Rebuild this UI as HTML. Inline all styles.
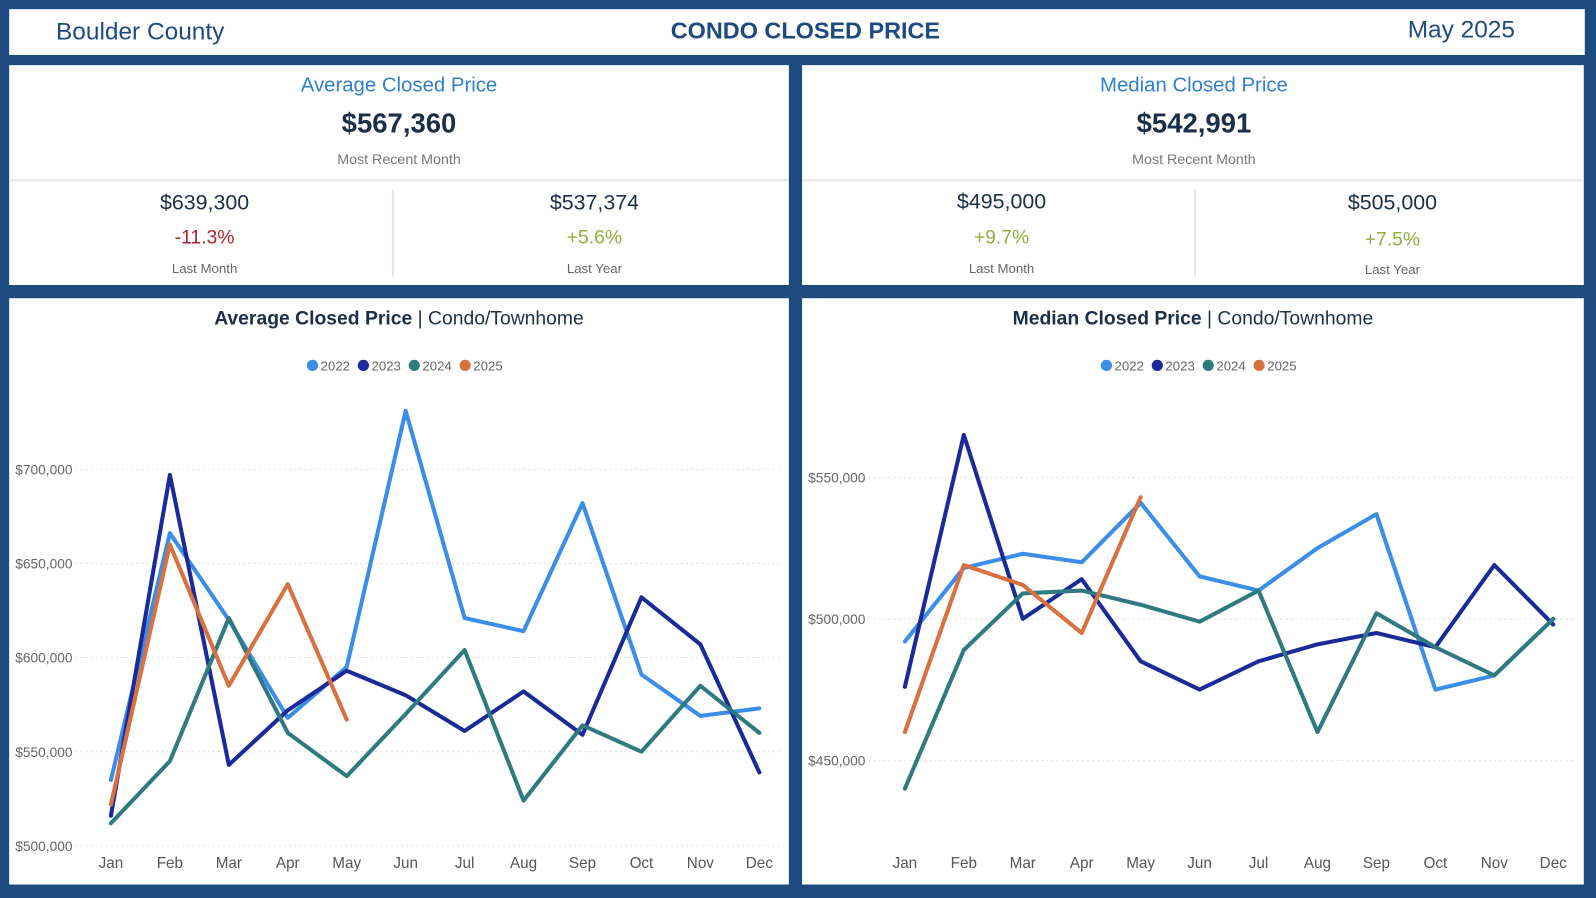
<!DOCTYPE html>
<html><head><meta charset="utf-8">
<style>
*{margin:0;padding:0;box-sizing:border-box}
html,body{width:1596px;height:898px;background:#1d4b80;overflow:hidden}
#root{position:absolute;left:0;top:0;width:1568px;height:882px;transform:scale(1.017857);transform-origin:0 0;font-family:"Liberation Sans",sans-serif}
.box{position:absolute;background:#fff}
.t{position:absolute;white-space:nowrap;text-align:center}
</style></head><body>
<div id="root">
<div class="box" style="left:9px;top:9px;width:1548px;height:45px">
 <div class="t" style="left:46px;top:9px;font-size:24px;color:#1d4b80">Boulder County</div>
 <div class="t" style="left:650px;top:8px;font-size:23px;font-weight:bold;color:#1d4b80">CONDO CLOSED PRICE</div>
 <div class="t" style="left:1374px;top:7px;font-size:24px;color:#1d4b80">May 2025</div>
</div>

<div class="box" style="left:9px;top:64px;width:766px;height:216px">
 <div class="t" style="left:0;width:766px;top:9px;font-size:20px;color:#2f7fd1">Average Closed Price</div>
 <div class="t" style="left:0;width:766px;top:42px;font-size:27px;font-weight:bold;color:#1b2f4a">$567,360</div>
 <div class="t" style="left:0;width:766px;top:84px;font-size:14px;color:#777">Most Recent Month</div>
 <div style="position:absolute;left:0;top:112px;width:766px;height:2px;background:#e6e6e6"></div>
 <div style="position:absolute;left:376px;top:122px;width:2px;height:86px;background:#e6e6e6"></div>
 <div class="t" style="left:0;width:384px;top:124px;font-size:21px;color:#1b2f4a">$639,300</div>
 <div class="t" style="left:0;width:384px;top:159px;font-size:19px;color:#b0222c">-11.3%</div>
 <div class="t" style="left:0;width:384px;top:192px;font-size:13px;color:#666">Last Month</div>
 <div class="t" style="left:384px;width:382px;top:124px;font-size:21px;color:#1b2f4a">$537,374</div>
 <div class="t" style="left:384px;width:382px;top:159px;font-size:19px;color:#8db33a">+5.6%</div>
 <div class="t" style="left:384px;width:382px;top:192px;font-size:13px;color:#666">Last Year</div>
</div>

<div class="box" style="left:788px;top:64px;width:768px;height:216px">
 <div class="t" style="left:0;width:770px;top:9px;font-size:20px;color:#2f7fd1">Median Closed Price</div>
 <div class="t" style="left:0;width:770px;top:42px;font-size:27px;font-weight:bold;color:#1b2f4a">$542,991</div>
 <div class="t" style="left:0;width:770px;top:84px;font-size:14px;color:#777">Most Recent Month</div>
 <div style="position:absolute;left:0;top:112px;width:768px;height:2px;background:#e6e6e6"></div>
 <div style="position:absolute;left:385px;top:122px;width:2px;height:86px;background:#e6e6e6"></div>
 <div class="t" style="left:0;width:392px;top:123px;font-size:21px;color:#1b2f4a">$495,000</div>
 <div class="t" style="left:0;width:392px;top:159px;font-size:19px;color:#8db33a">+9.7%</div>
 <div class="t" style="left:0;width:392px;top:192px;font-size:13px;color:#666">Last Month</div>
 <div class="t" style="left:385px;width:390px;top:124px;font-size:21px;color:#1b2f4a">$505,000</div>
 <div class="t" style="left:385px;width:390px;top:161px;font-size:19px;color:#8db33a">+7.5%</div>
 <div class="t" style="left:385px;width:390px;top:193px;font-size:13px;color:#666">Last Year</div>
</div>

<div class="box" style="left:9px;top:293px;width:766px;height:576px">
 <svg id="c1" width="766" height="576"></svg>
</div>
<div class="box" style="left:788px;top:293px;width:768px;height:576px">
 <svg id="c2" width="768" height="576"></svg>
</div>
</div>

<script>
const months=["Jan","Feb","Mar","Apr","May","Jun","Jul","Aug","Sep","Oct","Nov","Dec"];
const years=["2022","2023","2024","2025"];
const colors=["#3a8ee8","#1a2a98","#2e7a80","#d8703f"];
const avg2022=[535,666,620,568,595,731,621,614,682,591,569,573];
const avg2023=[516,697,543,572,593,580,561,582,559,632,607,539];
const avg2024=[512,545,621,560,537,570,604,524,564,550,585,560];
const avg2025=[522,660,585,639,567];
const avgTicks=[500,550,600,650,700];
const med2022=[492,518,523,520,541,515,510,525,537,475,480,500];
const med2023=[476,565,500,514,485,475,485,491,495,490,519,498];
const med2024=[440,489,509,510,505,499,510,460,502,490,480,500];
const med2025=[460,519,512,495,543];
const medTicks=[450,500,550];
const NS="http://www.w3.org/2000/svg";
function mk(svg,tag,attrs,text){const e=document.createElementNS(NS,tag);for(const k in attrs)e.setAttribute(k,attrs[k]);if(text!==undefined)e.textContent=text;svg.appendChild(e);return e;}
function draw(id,title,series,ticks,x0,x1,yTop,yBot,vTop,vBot,prefix){
 const svg=document.getElementById(id);
 const W=+svg.getAttribute('width');
 const xs=i=>x0+i*(x1-x0)/11;
 const ys=v=>yBot-(v-vBot)*(yBot-yTop)/(vTop-vBot);
 const t=mk(svg,'text',{x:W/2,y:26,'text-anchor':'middle','font-size':19,fill:'#1b2f4a'});
 
 
 const b=document.createElementNS(NS,'tspan');b.setAttribute('font-weight','bold');b.textContent=title;t.appendChild(b);
 const r=document.createElementNS(NS,'tspan');r.textContent=" | Condo/Townhome";t.appendChild(r);
 let lx=W/2-91;
 years.forEach((y,i)=>{
  const g=mk(svg,'g',{});
  
  
  mk(g,'circle',{cx:lx+6,cy:66,r:5.5,fill:colors[i]});
  mk(g,'text',{x:lx+14,y:71,'font-size':13,fill:'#666'},y);
  lx+=50;
 });
 ticks.forEach(v=>{
  const y=ys(v);
  const l=mk(svg,'line',{x1:60,x2:W-8,y1:y,y2:y,stroke:'#ddd','stroke-dasharray':'2,3'});
  
  
  const tx=mk(svg,'text',{x:6,y:y+5,'font-size':13.5,fill:'#666'},'$'+v+',000');
  
  
 });
 months.forEach((m,i)=>{
  const tx=mk(svg,'text',{x:xs(i),y:560,'text-anchor':'middle','font-size':15,fill:'#555'},m);
  
  
 });
 series.forEach((d,si)=>{
  const p=mk(svg,'polyline',{points:d.map((v,i)=>xs(i)+','+ys(v)).join(' '),fill:'none',stroke:colors[si],'stroke-width':4,'stroke-linejoin':'round','stroke-linecap':'round'});
  
  
 });
}
draw('c1','Average Closed Price',[avg2022,avg2023,avg2024,avg2025],avgTicks,100,737,168,538,700,500,'average');
draw('c2','Median Closed Price',[med2022,med2023,med2024,med2025],medTicks,101,738,176,454,550,450,'median');
</script>
</body></html>
